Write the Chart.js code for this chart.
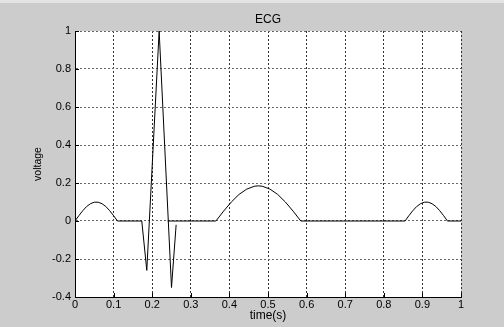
<!DOCTYPE html>
<html>
<head>
<meta charset="utf-8">
<script src="https://cdn.jsdelivr.net/npm/chart.js@4.4.0/dist/chart.umd.min.js"></script>
<style>
  html, body { margin: 0; padding: 0; background: #cccccc; overflow: hidden; }
  #wrap { position: relative; width: 504px; height: 327px; }
  #topline { position: absolute; left: 0; top: 0; width: 504px; height: 3px; background: #e4e4e4; }
</style>
</head>
<body>
<div id="wrap">
  <canvas id="ecg" width="504" height="327"></canvas>
  <div id="topline"></div>
</div>
<script>
// ECG trace (P wave, QRS, baseline, T wave, U wave)
const time = [
  0, 0.01, 0.02, 0.03, 0.04, 0.05, 0.06, 0.07, 0.08, 0.09, 0.10, 0.11,
  0.173, 0.186, 0.218, 0.25, 0.262, 0.262,
  0.24, 0.365, 0.385, 0.405, 0.425, 0.445, 0.465, 0.475, 0.485, 0.505, 0.525, 0.545, 0.565, 0.585,
  0.855, 0.865, 0.875, 0.885, 0.895, 0.905, 0.915, 0.925, 0.935, 0.945, 0.955, 0.965,
  1
];
const voltage = [
  0, 0.028, 0.054, 0.076, 0.091, 0.099, 0.099, 0.091, 0.076, 0.054, 0.028, 0,
  0, -0.26, 1, -0.35, -0.02, null,
  0, 0, 0.052, 0.100, 0.140, 0.168, 0.183, 0.185, 0.183, 0.168, 0.140, 0.100, 0.052, 0,
  0, 0.028, 0.054, 0.076, 0.091, 0.099, 0.099, 0.091, 0.076, 0.054, 0.028, 0,
  0
];
const xTicks = [0, 0.1, 0.2, 0.3, 0.4, 0.5, 0.6, 0.7, 0.8, 0.9, 1];
const yTicks = [-0.4, -0.2, 0, 0.2, 0.4, 0.6, 0.8, 1];

const FONT = '"Liberation Sans", Arial, sans-serif';

const points = time.map((t, i) => ({ x: t, y: voltage[i] }));

// white axes box + matlab style inward tick marks
const plotFrame = {
  id: 'plotFrame',
  beforeDraw(chart) {
    const { ctx, chartArea: a } = chart;
    ctx.save();
    ctx.fillStyle = '#ffffff';
    ctx.fillRect(a.left, a.top, a.right - a.left, a.bottom - a.top);
    ctx.restore();
  },
  afterDraw(chart) {
    const { ctx, chartArea: a, scales } = chart;
    ctx.save();
    ctx.strokeStyle = '#000';
    ctx.lineWidth = 1;
    ctx.beginPath();
    xTicks.forEach(v => {
      const px = Math.round(scales.x.getPixelForValue(v)) + 0.5;
      ctx.moveTo(px, a.bottom);
      ctx.lineTo(px, a.bottom - 4);
    });
    yTicks.forEach(v => {
      const py = Math.round(scales.y.getPixelForValue(v)) + 0.5;
      ctx.moveTo(a.left, py);
      ctx.lineTo(a.left + 4, py);
    });
    ctx.stroke();
    ctx.restore();
  }
};

new Chart(document.getElementById('ecg'), {
  type: 'line',
  data: {
    datasets: [{
      data: points,
      borderColor: '#000',
      borderWidth: 1,
      pointRadius: 0,
      tension: 0,
      spanGaps: false,
      fill: false,
    }],
  },
  options: {
    responsive: false,
    animation: false,
    devicePixelRatio: 1,
    layout: { padding: { left: 32, right: 0, top: 0, bottom: 0 } },
    plugins: {
      legend: { display: false },
      tooltip: { enabled: false },
      title: {
        display: true,
        text: 'ECG',
        color: '#000',
        font: { family: FONT, size: 12, weight: 'normal' },
        padding: { top: 12, bottom: 4.6 },
      },
    },
    scales: {
      x: {
        type: 'linear',
        min: 0,
        max: 1,
        afterBuildTicks: s => { s.ticks = xTicks.map(value => ({ value })); },
        afterFit: s => { s.height = 30; },
        ticks: {
          color: '#000',
          font: { family: FONT, size: 11 },
          padding: 1,
          maxRotation: 0,
          autoSkip: false,
          callback: v => String(v),
        },
        grid: { color: '#333', lineWidth: 1, drawTicks: false },
        border: { display: true, color: '#000', width: 1, dash: [2, 2] },
        title: {
          display: true,
          text: 'time(s)',
          color: '#000',
          font: { family: FONT, size: 12 },
          padding: { top: 0, bottom: 4 },
        },
      },
      y: {
        type: 'linear',
        position: 'left',
        min: -0.4,
        max: 1,
        afterBuildTicks: s => { s.ticks = yTicks.map(value => ({ value })); },
        afterFit: s => { s.width = 43; },
        ticks: {
          color: '#000',
          font: { family: FONT, size: 11 },
          padding: 4,
          autoSkip: false,
          callback: v => String(v),
        },
        grid: { color: '#666', lineWidth: 1, drawTicks: false },
        border: { display: true, color: '#000', width: 1, dash: [2, 2] },
        title: {
          display: true,
          text: 'voltage',
          color: '#000',
          font: { family: FONT, size: 10.5 },
          padding: { top: 0, bottom: 0 },
        },
      },
      // empty right axis, only reserves the figure margin
      yRight: {
        type: 'linear',
        position: 'right',
        display: true,
        afterFit: s => { s.width = 43; },
        ticks: { display: false },
        grid: { display: false },
        border: { display: false },
      },
    },
  },
  plugins: [plotFrame],
});
</script>
</body>
</html>
